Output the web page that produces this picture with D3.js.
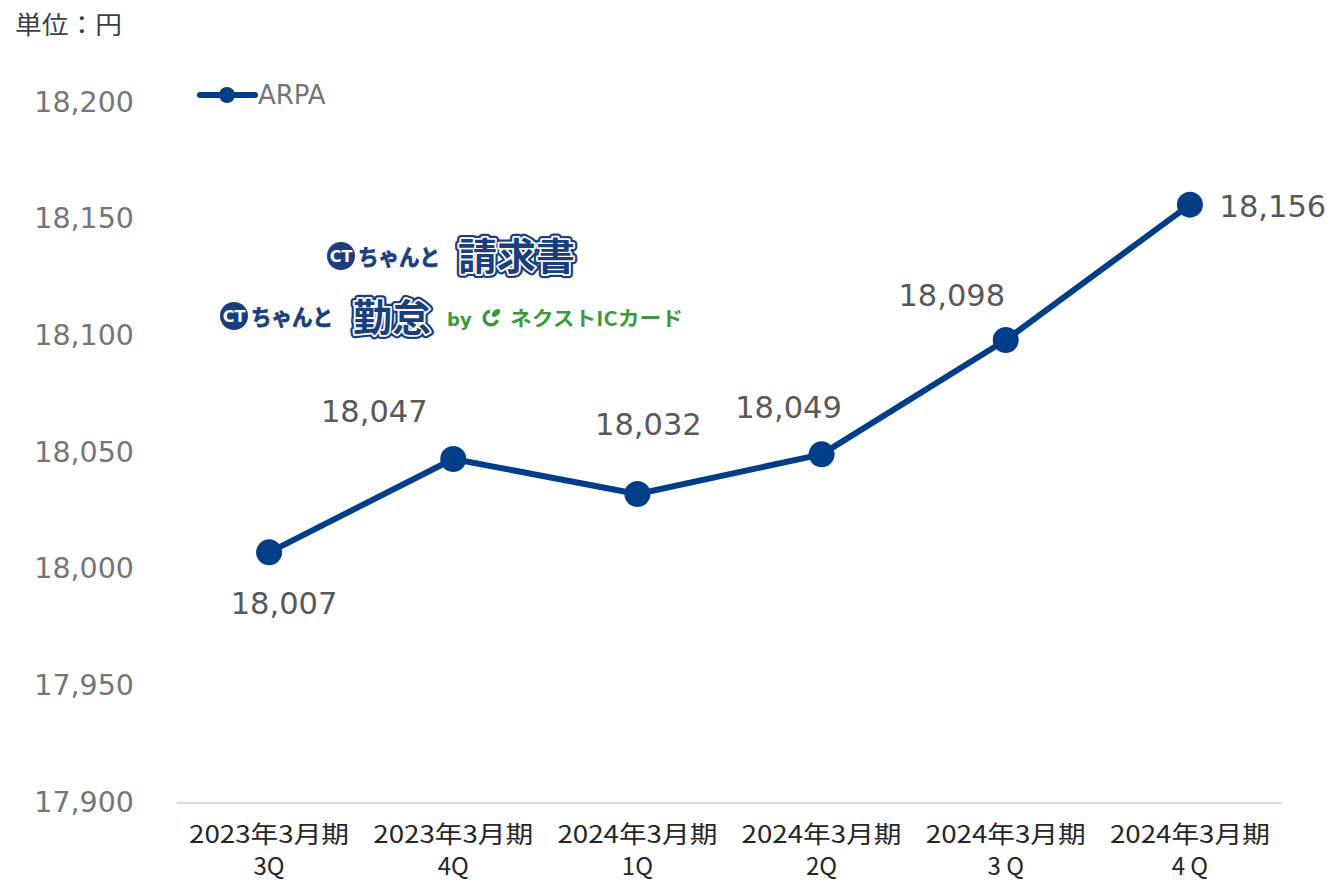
<!DOCTYPE html>
<html>
<head>
<meta charset="utf-8">
<script src="https://cdn.jsdelivr.net/npm/d3@7"></script>
<style>
  body { margin: 0; background: #fff; }
  text { font-family: "DejaVu Sans", Verdana, sans-serif; }
</style>
</head>
<body>
<div id="chart"></div>
<script>
const periods = ['2023年3月期', '2023年3月期', '2024年3月期', '2024年3月期', '2024年3月期', '2024年3月期'];
const quarters = ['3Q', '4Q', '1Q', '2Q', '3 Q', '4 Q'];
const arpa = [18007, 18047, 18032, 18049, 18098, 18156];
const yTicks = [17900, 17950, 18000, 18050, 18100, 18150, 18200];

// label offsets from each marker (layout only)
const labelOffsets = [[15, 62], [-79, -37], [11, -59], [-33, -36], [-54, -34], [83, 12]];

const width = 1335;
const height = 882;
const margin = { top: 102, right: 53, bottom: 80, left: 177 };

const navy = '#003f87';
const logoBlue = '#1b3f7e';
const green = '#3a9a3a';

const svg = d3.select('#chart')
  .append('svg')
  .attr('width', width)
  .attr('height', height);

const x = d3.scaleBand()
  .domain(d3.range(arpa.length))
  .range([margin.left, width - margin.right]);

const y = d3.scaleLinear()
  .domain([17900, 18200])
  .range([height - margin.bottom, margin.top]);

// unit label
svg.append('text')
  .attr('x', 15)
  .attr('y', 34)
  .attr('font-size', 25)
  .attr('fill', '#404040')
  .attr('textLength', 107)
  .attr('lengthAdjust', 'spacingAndGlyphs')
  .style('font-family', '"Noto Sans CJK JP", sans-serif')
  .text('単位：円');

// y axis labels
const yAxis = d3.axisLeft(y)
  .tickValues(yTicks)
  .tickFormat(d3.format(','))
  .tickSize(0)
  .tickPadding(0);

svg.append('g')
  .attr('transform', 'translate(134,0)')
  .call(yAxis)
  .call((g) => g.select('.domain').remove())
  .selectAll('text')
  .attr('font-size', 28.5)
  .attr('fill', '#767676')
  .style('font-family', '"DejaVu Sans", Verdana, sans-serif');

// x axis baseline
svg.append('line')
  .attr('x1', margin.left)
  .attr('x2', width - margin.right)
  .attr('y1', y(17900) + 1)
  .attr('y2', y(17900) + 1)
  .attr('stroke', '#d9d9d9')
  .attr('stroke-width', 2);

// x labels
const xl = svg.append('g')
  .selectAll('text')
  .data(arpa)
  .enter()
  .append('text')
  .attr('x', (d, i) => x(i) + x.bandwidth() / 2)
  .attr('y', 843)
  .attr('text-anchor', 'middle')
  .attr('font-size', 24)
  .attr('fill', '#262626')
  .style('font-family', '"Noto Sans CJK JP", sans-serif');

xl.append('tspan')
  .attr('x', (d, i) => x(i) + x.bandwidth() / 2)
  .attr('textLength', 160)
  .attr('lengthAdjust', 'spacingAndGlyphs')
  .text((d, i) => periods[i]);
xl.append('tspan')
  .attr('x', (d, i) => x(i) + x.bandwidth() / 2)
  .attr('dy', 32)
  .text((d, i) => quarters[i]);

// line
const line = d3.line()
  .x((d, i) => x(i) + x.bandwidth() / 2)
  .y((d) => y(d));

svg.append('path')
  .datum(arpa)
  .attr('d', line)
  .attr('fill', 'none')
  .attr('stroke', navy)
  .attr('stroke-width', 6)
  .attr('stroke-linejoin', 'round');

svg.append('g')
  .selectAll('circle')
  .data(arpa)
  .enter()
  .append('circle')
  .attr('cx', (d, i) => x(i) + x.bandwidth() / 2)
  .attr('cy', (d) => y(d))
  .attr('r', 13)
  .attr('fill', navy);

// data labels
svg.append('g')
  .selectAll('text')
  .data(arpa)
  .enter()
  .append('text')
  .attr('x', (d, i) => x(i) + x.bandwidth() / 2 + labelOffsets[i][0])
  .attr('y', (d, i) => y(d) + labelOffsets[i][1])
  .attr('text-anchor', 'middle')
  .attr('font-size', 30.5)
  .attr('fill', '#595959')
  .text((d) => d3.format(',')(d));

// legend
const lg = svg.append('g').attr('transform', 'translate(200,95)');
lg.append('line')
  .attr('x1', 0).attr('x2', 55)
  .attr('stroke', navy).attr('stroke-width', 6).attr('stroke-linecap', 'round');
lg.append('circle').attr('cx', 27).attr('r', 8).attr('fill', navy);
lg.append('text')
  .attr('x', 58).attr('y', 9)
  .attr('font-size', 26)
  .attr('fill', '#767676')
  .text('ARPA');

// product logos (text approximation)
function logo(g, cx, cy) {
  g.append('circle').attr('cx', cx).attr('cy', cy).attr('r', 14).attr('fill', logoBlue);
  g.append('text')
    .attr('x', cx).attr('y', cy + 6)
    .attr('text-anchor', 'middle')
    .attr('font-size', 16)
    .attr('font-weight', 'bold')
    .attr('fill', '#fff')
    .style('font-family', '"DejaVu Sans", sans-serif')
    .text('CT');
}

function outlined(g, xx, yy, txt, size, len) {
  g.append('text')
    .attr('x', xx).attr('y', yy)
    .attr('font-size', size).attr('font-weight', 'bold')
    .attr('fill', logoBlue).attr('stroke', logoBlue).attr('stroke-width', 8)
    .attr('stroke-linejoin', 'round')
    .attr('textLength', len).attr('lengthAdjust', 'spacingAndGlyphs')
    .style('font-family', '"Noto Sans CJK JP", sans-serif')
    .text(txt);
  g.append('text')
    .attr('x', xx).attr('y', yy)
    .attr('font-size', size).attr('font-weight', 'bold')
    .attr('fill', logoBlue).attr('stroke', '#fff').attr('stroke-width', 3.5)
    .attr('paint-order', 'stroke')
    .attr('stroke-linejoin', 'round')
    .attr('textLength', len).attr('lengthAdjust', 'spacingAndGlyphs')
    .style('font-family', '"Noto Sans CJK JP", sans-serif')
    .text(txt);
}

function chanto(g, xx, yy) {
  g.append('text')
    .attr('x', xx).attr('y', yy)
    .attr('font-size', 22).attr('font-weight', 'bold')
    .attr('fill', logoBlue).attr('stroke', logoBlue).attr('stroke-width', 0.8)
    .attr('textLength', 82).attr('lengthAdjust', 'spacingAndGlyphs')
    .style('font-family', '"Noto Sans CJK JP", sans-serif')
    .text('ちゃんと');
}

const logos = svg.append('g');
logo(logos, 341, 256);
chanto(logos, 358, 265);
outlined(logos, 458, 270, '請求書', 38, 117);

logo(logos, 234, 316);
chanto(logos, 251, 325);
outlined(logos, 353, 331, '勤怠', 38, 78);

logos.append('text')
  .attr('x', 447).attr('y', 326)
  .attr('font-size', 18).attr('font-weight', 'bold')
  .attr('fill', green)
  .style('font-family', '"DejaVu Sans", sans-serif')
  .text('by');
// green "e" mark: open ring with a leaf
logos.append('path')
  .attr('d', d3.arc()({ innerRadius: 5, outerRadius: 8.5, startAngle: Math.PI * 0.6, endAngle: Math.PI * 1.95 }))
  .attr('transform', 'translate(491,318)')
  .attr('fill', green);
logos.append('ellipse')
  .attr('cx', 0).attr('cy', 0).attr('rx', 5).attr('ry', 3)
  .attr('transform', 'translate(496,313) rotate(-40)')
  .attr('fill', green);
logos.append('text')
  .attr('x', 510).attr('y', 326)
  .attr('font-size', 20).attr('font-weight', 'bold')
  .attr('fill', green)
  .attr('textLength', 173).attr('lengthAdjust', 'spacingAndGlyphs')
  .style('font-family', '"Noto Sans CJK JP", sans-serif')
  .text('ネクストICカード');
</script>
</body>
</html>
